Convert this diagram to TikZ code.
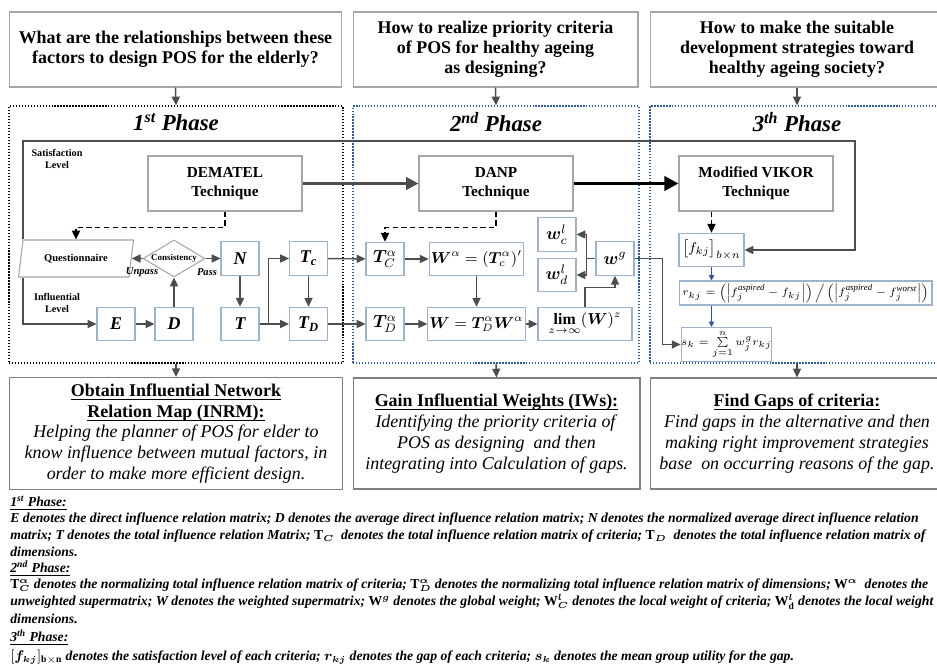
\documentclass[tikz,border=0pt]{standalone}
\usepackage{amsmath,amssymb,bm}
\usepackage{fontspec}
\setmainfont{Liberation Serif}
\usetikzlibrary{arrows.meta,calc,positioning,shapes.geometric}
\definecolor{framegray}{HTML}{A6A6A6}
\definecolor{cellblue}{HTML}{9DB3CC}
\definecolor{phaseblue}{HTML}{2E5C9A}
\definecolor{linkgray}{HTML}{4D4D4D}
\definecolor{flowblue}{HTML}{2F5597}
\newcommand{\uln}[1]{\setbox0\hbox{#1}\rlap{\rule[-2pt]{\wd0}{0.5pt}}\box0}

\begin{document}
\begin{tikzpicture}[x=0.02cm,y=-0.02cm,>=Triangle,
  qbox/.style={draw=framegray,line width=0.6pt,align=center,minimum height=1.5cm,font=\fontsize{10.2}{11.3}\selectfont\bfseries},
  phasebox/.style={densely dotted,line width=0.7pt,minimum height=5.14cm},
  cell/.style={draw=cellblue,line width=0.6pt,minimum width=0.76cm,minimum height=0.67cm,inner sep=1pt,font=\fontsize{10.2}{12}\selectfont\bfseries\itshape},
  tech/.style={draw=framegray,line width=0.6pt,minimum width=3.08cm,minimum height=1.1cm,align=center,font=\fontsize{8.7}{10.8}\selectfont\bfseries},
  resbox/.style={draw=gray,line width=0.6pt,minimum height=2.22cm,align=center,font=\fontsize{10.2}{11.9}\selectfont},
  tiny/.style={align=center,font=\fontsize{5.8}{6.8}\selectfont\bfseries},
  note/.style={anchor=west,inner sep=0pt,font=\fontsize{7.8}{9.2}\selectfont\bfseries\itshape},
  arr/.style={draw=linkgray,line width=0.8pt,-{Triangle[length=5pt,width=4.6pt]}},
  dasharr/.style={draw=black,densely dashed,line width=0.8pt,-{Triangle[length=5pt,width=4.6pt]}},
  bluearr/.style={draw=flowblue,line width=0.5pt,-{Triangle[length=3pt,width=3pt]}}]
  \useasboundingbox (0,0) rectangle (937,670);

  % questions
  \node[qbox,minimum width=6.66cm] (q1) at (175.5,49.5) {What are the relationships between these\\factors to design POS for the elderly?};
  \node[qbox,minimum width=5.7cm] (q2) at (495.5,49.5) {How to realize priority criteria\\of POS for healthy ageing\\as designing?};
  \node[qbox,minimum width=5.88cm] (q3) at (797,49.5) {How to make the suitable\\development strategies toward\\healthy ageing society?};

  % phase frames
  \node[phasebox,draw=black,minimum width=6.68cm] (p1) at (176,234.5) {};
  \node[phasebox,draw=phaseblue,minimum width=5.72cm] (p2) at (496,234.5) {};
  \node[phasebox,draw=phaseblue,minimum width=5.88cm] (p3) at (797,234.5) {};
  \foreach \x/\ph in {176/{1\textsuperscript{st}},496/{2\textsuperscript{nd}},797/{3\textsuperscript{th}}}
    \node[font=\fontsize{13}{15}\selectfont\bfseries\itshape] at (\x,122) {\ph\ Phase};

  % results
  \node[resbox,minimum width=6.68cm] (r1) at (176,433.5) {\textbf{\uln{Obtain Influential Network}}\\\textbf{\uln{Relation Map (INRM):}}\\\textit{Helping the planner of POS for elder to}\\\textit{know influence between mutual factors, in}\\\textit{order to make more efficient design.}};
  \node[resbox,minimum width=5.74cm] (r2) at (496.5,433.5) {\textbf{\uln{Gain Influential Weights (IWs):}}\\\textit{Identifying the priority criteria of}\\\textit{POS as designing\ \ and then}\\\textit{integrating into Calculation of gaps.}};
  \node[resbox,minimum width=5.88cm] (r3) at (797,433.5) {\textbf{\uln{Find Gaps of criteria:}}\\\textit{Find gaps in the alternative and then}\\\textit{making right improvement strategies}\\\textit{base\ \ on occurring reasons of the gap.}};

  \foreach \a/\b in {q1/p1,q2/p2,q3/p3,p1/r1,p2/r2,p3/r3}
    \draw[arr] (\a.south) -- (\b.north);

  % techniques
  \node[tech] (dem) at (225,183.5) {DEMATEL\\Technique};
  \node[tech] (danp) at (496,183.5) {DANP\\Technique};
  \node[tech] (vik) at (756,183.5) {Modified VIKOR\\Technique};
  \draw[draw=linkgray,line width=1.7pt,-{Triangle[length=7pt,width=7pt]}] (dem.east) -- (danp.west);
  \draw[draw=black,line width=2.2pt,-{Triangle[length=8pt,width=8pt]}] (danp.east) -- (vik.west);

  % 1st phase
  \node[tiny] at (57,159) {Satisfaction\\Level};
  \node[tiny] at (57,303) {Influential\\Level};
  \node[trapezium,trapezium left angle=73,trapezium right angle=107,trapezium stretches=true,draw=framegray,line width=0.6pt,
    minimum width=2.3cm,minimum height=0.74cm,inner sep=0pt,fill=white,font=\fontsize{6}{7}\selectfont\bfseries] (quest) at (76,258.5) {Questionnaire};
  \node[diamond,draw=framegray,line width=0.6pt,minimum width=1.24cm,minimum height=0.74cm,inner sep=0pt] (cons) at (174,258.5) {};
  \node[font=\fontsize{5.1}{6}\selectfont\bfseries] at (cons) {Consistency};
  \node[tiny,font=\fontsize{6}{7}\selectfont\bfseries\itshape] at (142,272) {Unpass};
  \node[tiny,font=\fontsize{6}{7}\selectfont\bfseries\itshape] at (207,272) {Pass};
  \node[cell] (e) at (116,324) {E};
  \node[cell] (d) at (174,324) {D};
  \node[cell] (n) at (240,258.5) {N};
  \node[cell] (t) at (240,324) {T};
  \node[cell] (tc) at (308.5,258.5) {T\textsubscript{c}};
  \node[cell] (td) at (308.5,324) {T\textsubscript{D}};

  \coordinate (satl) at (23,141);
  \coordinate (satr) at (855,141);
  \draw[dasharr] (dem.south) -- ++(0,16) -| (quest.north);
  \draw[arr] (cons.west) -- (quest.east);
  \draw[arr] (cons.east) -- (n.west);
  \draw[arr] (e) -- (d);
  \draw[arr] (d) -- (cons.south);
  \draw[arr] (n) -- (t);
  \draw[arr] (t.east) -- ++(9,0) |- (tc.west);
  \draw[arr] (t) -- (td);
  \draw[arr] (tc) -- (td);

  % 2nd phase
  \node[cell,font=\fontsize{10}{12}\selectfont] (tca) at (385,259) {$\bm{T}_{C}^{\alpha}$};
  \node[cell,font=\fontsize{10}{12}\selectfont] (tda) at (385,324) {$\bm{T}_{D}^{\alpha}$};
  \node[cell,minimum width=1.86cm,font=\fontsize{9}{11}\selectfont] (wa) at (476.5,259) {$\bm{W}^{\alpha}=(\bm{T}_{c}^{\alpha})'$};
  \node[cell,minimum width=1.86cm,font=\fontsize{9}{11}\selectfont] (w) at (476.5,324) {$\bm{W}=\bm{T}_{D}^{\alpha}\bm{W}^{\alpha}$};
  \node[cell,minimum width=1.88cm,font=\fontsize{9}{11}\selectfont] (lim) at (585,324) {$\operatorname*{\mathbf{lim}}\limits_{z\to\infty}(\bm{W})^{z}$};
  \node[cell,font=\fontsize{10}{12}\selectfont] (wc) at (557,234.5) {$\bm{w}_{c}^{l}$};
  \node[cell,font=\fontsize{10}{12}\selectfont] (wd) at (557,275) {$\bm{w}_{d}^{l}$};
  \node[cell,font=\fontsize{10}{12}\selectfont] (wg) at (615,258.5) {$\bm{w}^{g}$};

  \draw[dasharr] (danp.south) -- ++(0,16) -| (tca.north);
  \draw[arr] (tc) -- (tca);
  \draw[arr] (td) -- (tda);
  \draw[arr] (tca) -- (wa);
  \draw[arr] (tda) -- (w);
  \draw[arr] (wa) -- (w);
  \draw[arr] (w) -- (lim);
  \draw[arr] (lim.north) -- ++(0,-19) -| (wg.south);
  \draw[draw=linkgray,line width=0.8pt] (wg.west) -- ++(-9,0) coordinate (wsplit);
  \draw[arr] (wsplit) |- (wc.east);
  \draw[arr] (wsplit) |- (wd.east);

  % 3rd phase
  \node[cell,minimum width=1.3cm,font=\fontsize{8.5}{10}\selectfont] (fkj) at (711.5,250) {$\left[f_{kj}\right]_{b\times n}$};
  \node[cell,minimum width=5.06cm,minimum height=0.48cm,inner sep=0pt,font=\fontsize{6}{7}\selectfont] (rkj) at (805.5,293)
    {$r_{kj}=\left(\left|f_j^{\mathit{aspired}}-f_{kj}\right|\right)\Big/\left(\left|f_j^{\mathit{aspired}}-f_j^{\mathit{worst}}\right|\right)$};
  \node[cell,minimum width=1.78cm,minimum height=0.68cm,inner sep=0pt,font=\fontsize{5.6}{6.5}\selectfont] (sk) at (726.5,344.5) {$s_k=\sum\limits_{j=1}^{n} w_j^{g}r_{kj}$};

  \draw[arr] (quest.north -| satl) -- (satl) -- (satr) |- (fkj.east);
  \draw[arr] (quest.south -| satl) |- (e.west);
  \draw[dasharr] (vik.south -| fkj.north) -- (fkj.north);
  \draw[bluearr] (fkj.south) -- (fkj.south |- rkj.north);
  \draw[bluearr] (fkj.south |- rkj.south) -- (fkj.south |- sk.north);
  \draw[arr] (wg.east) -- ++(28,0) |- (sk.west);

  % notes
  \node[note] at (10,503) {\uln{1\textsuperscript{st} Phase:}};
  \node[note] at (10,519) {E denotes the direct influence relation matrix; D denotes the average direct influence relation matrix; N denotes the normalized average direct influence relation};
  \node[note] at (10,536) {matrix; T denotes the total influence relation Matrix; $\mathbf{T}_{\boldsymbol{C}}$ \ denotes the total influence relation matrix of criteria; $\mathbf{T}_{\boldsymbol{D}}$ \ denotes the total influence relation matrix of};
  \node[note] at (10,552) {dimensions.};
  \node[note] at (10,568) {\uln{2\textsuperscript{nd} Phase:}};
  \node[note] at (10,585) {$\mathbf{T}_{\boldsymbol{C}}^{\boldsymbol{\alpha}}$ denotes the normalizing total influence relation matrix of criteria; $\mathbf{T}_{\boldsymbol{D}}^{\boldsymbol{\alpha}}$ denotes the normalizing total influence relation matrix of dimensions; $\mathbf{W}^{\boldsymbol{\alpha}}$ \ denotes the};
  \node[note] at (10,602) {unweighted supermatrix; W denotes the weighted supermatrix; $\mathbf{W}^{\boldsymbol{g}}$ denotes the global weight; $\mathbf{W}_{\boldsymbol{C}}^{\boldsymbol{l}}$ denotes the local weight of criteria; $\mathbf{W}_{\mathbf{d}}^{\boldsymbol{l}}$ denotes the local weight of};
  \node[note] at (10,619) {dimensions.};
  \node[note] at (10,637) {\uln{3\textsuperscript{th} Phase:}};
  \node[note] at (10,657) {$[\boldsymbol{f}_{\boldsymbol{kj}}]_{\mathbf{b\times n}}$ denotes the satisfaction level of each criteria; $\boldsymbol{r}_{\boldsymbol{kj}}$ denotes the gap of each criteria; $\boldsymbol{s}_{\boldsymbol{k}}$ denotes the mean group utility for the gap.};
\end{tikzpicture}
\end{document}
